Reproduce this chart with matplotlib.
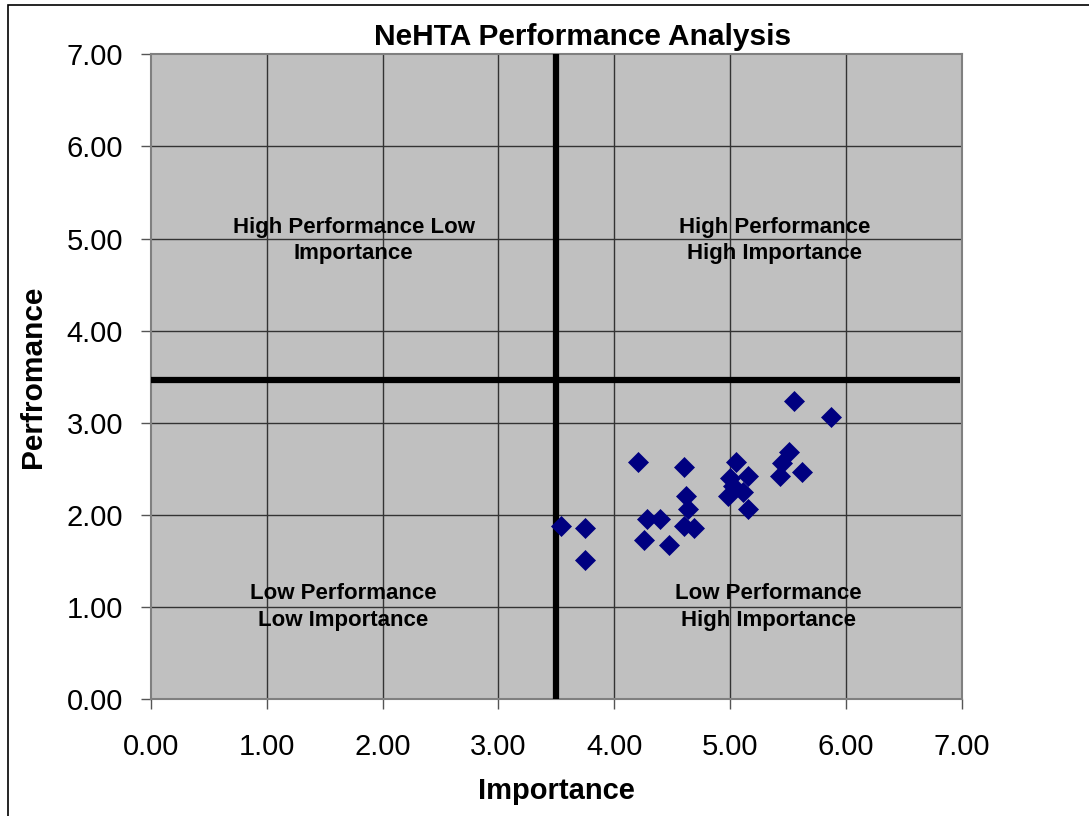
import matplotlib
matplotlib.use("Agg")
import matplotlib.pyplot as plt
from matplotlib.patches import Rectangle

# Survey results: importance vs performance per item
importance = [5.55, 5.87, 4.20, 4.60, 5.05, 5.51, 5.45, 5.43, 5.62, 5.15,
              5.00, 5.02, 4.98, 5.11, 5.15, 4.62, 4.64, 4.60, 4.69, 4.28,
              4.39, 4.26, 4.47, 3.54, 3.75, 3.75]
performance = [3.24, 3.06, 2.58, 2.52, 2.58, 2.68, 2.56, 2.42, 2.47, 2.42,
               2.40, 2.31, 2.21, 2.25, 2.07, 2.21, 2.07, 1.88, 1.86, 1.96,
               1.96, 1.73, 1.67, 1.88, 1.86, 1.51]

# Quadrant divider positions
importance_split = 3.5
performance_split = 3.47

ticks = [0, 1, 2, 3, 4, 5, 6, 7]

# Quadrant labels: (x, y, text)
quadrant_labels = [
    (1.75, 4.98, "High Performance Low\nImportance"),
    (5.38, 4.98, "High Performance\nHigh Importance"),
    (1.66, 1.0, "Low Performance\nLow Importance"),
    (5.33, 1.0, "Low Performance\nHigh Importance"),
]


def main():
    plt.rcParams["font.family"] = ["Liberation Sans", "DejaVu Sans"]

    fig = plt.figure(figsize=(10.89, 8.16), dpi=100)
    ax = fig.add_axes([0.1384, 0.1430, 0.7450, 0.7905])
    ax.set_facecolor("#C0C0C0")

    # Grid and quadrant dividers
    for t in ticks[1:-1]:
        ax.axvline(t, color="#333333", lw=1.0, zorder=1)
        ax.axhline(t, color="#333333", lw=1.0, zorder=1)
    ax.plot([importance_split, importance_split], [0, 7], color="black",
            lw=4.5, zorder=3, solid_capstyle="butt", clip_on=False)
    ax.plot([0, 6.98], [performance_split, performance_split], color="black",
            lw=4.5, zorder=3, solid_capstyle="butt")

    # Data points
    ax.plot(importance, performance, linestyle="none", marker="D",
            markersize=10, color="#000080", markeredgewidth=0.5, zorder=4)

    for x, y, text in quadrant_labels:
        ax.text(x, y, text, ha="center", va="center", fontsize=16,
                fontweight="bold", linespacing=1.35, zorder=5)

    ax.set_xlim(0, 7)
    ax.set_ylim(0, 7)
    ax.set_xticks(ticks)
    ax.set_yticks(ticks)
    ax.set_xticklabels([f"{t:.2f}" for t in ticks])
    ax.set_yticklabels([f"{t:.2f}" for t in ticks])
    ax.tick_params(axis="both", direction="out", length=7, width=1,
                   color="#555555", labelsize=21)
    ax.tick_params(axis="x", pad=17)
    ax.tick_params(axis="y", pad=13)
    for s in ax.spines.values():
        s.set_color("#808080")
        s.set_linewidth(1.5)

    fig.text(556 / 1089, 1 - 791 / 816, "Importance", ha="center",
             va="center", fontsize=21, fontweight="bold")
    fig.text(0.0303, 1 - 377 / 816, "Perfromance", rotation=90,
             ha="center", va="center", fontsize=21.5, fontweight="bold")
    fig.text(583 / 1089, 1 - 37 / 816, "NeHTA Performance Analysis",
             ha="center", va="center", fontsize=21.5, fontweight="bold")

    # Outer chart border (left and top visible)
    fig.patches.append(Rectangle((8 / 1089, -0.1), 2, 1.1 - 5 / 816,
                                 transform=fig.transFigure, fill=False,
                                 edgecolor="black", lw=1.2))

    fig.savefig("out.png", dpi=100)


if __name__ == "__main__":
    main()
